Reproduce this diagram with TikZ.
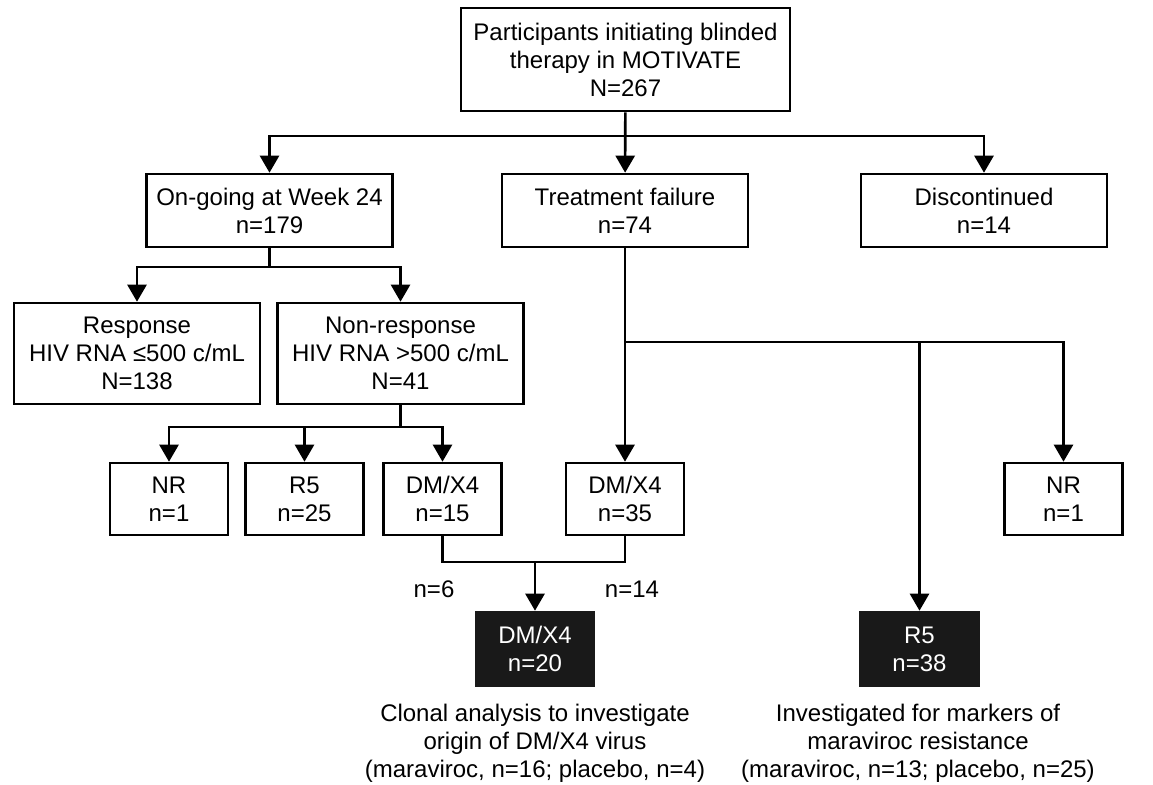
\documentclass[tikz,border=0pt]{standalone}
\usepackage{fontspec}
\setmainfont{Liberation Sans}
\usetikzlibrary{positioning,arrows.meta}

\begin{document}
\begin{tikzpicture}[
    x=0.5pt, y=-0.5pt,
    font=\fontsize{12}{14}\selectfont,
    box/.style={draw, line width=1.3pt, align=center, inner sep=0pt,
                minimum width=123pt, minimum height=36.5pt},
    tall/.style={box, minimum height=50.5pt},
    small/.style={draw, line width=1.3pt, align=center, inner sep=0pt,
                  minimum width=59pt, minimum height=36pt},
    dark/.style={small, fill=black!90, draw=black!90, text=white, minimum height=37pt},
    flow/.style={-{Triangle[length=8.5pt,width=9.5pt]}, line width=1.3pt},
    link/.style={line width=1.3pt},
    note/.style={align=center}]

    \useasboundingbox (0,0) rectangle (1153,784);

    \node[box, minimum width=164.5pt, minimum height=51.5pt] (start) at (625.5,59.5)
        {Participants initiating blinded\\therapy in MOTIVATE\\N=267};

    \node[box] (ongoing) at (269.5,210.5) {On-going at Week 24\\n=179};
    \node[box] (failure) at (625,210.5)   {Treatment failure\\n=74};
    \node[box] (disc)    at (984,210.5)   {Discontinued\\n=14};

    \node[tall] (resp)    at (137,353.5)   {Response\\HIV RNA \symbol{"2264}500 c/mL\\N=138};
    \node[tall] (nonresp) at (400.5,353.5) {Non-response\\HIV RNA \textgreater500 c/mL\\N=41};

    \node[small] (nrA)   at (169,499)    {NR\\n=1};
    \node[small] (rfiveA) at (304.5,499) {R5\\n=25};
    \node[small] (dmA)   at (442.5,499)  {DM/X4\\n=15};
    \node[small] (dmB)   at (625,499)    {DM/X4\\n=35};
    \node[small] (nrB)   at (1063.5,499) {NR\\n=1};

    \node[dark] (dmall)  at (535,649)    {DM/X4\\n=20};
    \node[dark] (rfiveall) at (919.5,649) {R5\\n=38};

    \node (lsix)      at (434,589) {n=6};
    \node (lfourteen) at (632,589) {n=14};

    \node[note] (clonal) at (535,743)
        {Clonal analysis to investigate\\origin of DM/X4 virus\\(maraviroc, n=16; placebo, n=4)};
    \node[note] (markers) at (918,743)
        {Investigated for markers of\\maraviroc resistance\\(maraviroc, n=13; placebo, n=25)};

    % junctions
    \coordinate (jtop)  at (625.5,136);
    \coordinate (jon)   at (269.5,267);
    \coordinate (jnon)  at (400.5,427);
    \coordinate (jfail) at (625,342);
    \coordinate (jdm)   at (535,562);

    \draw[flow] (start) -- (failure);
    \draw[flow] (jtop) -| (ongoing);
    \draw[flow] (jtop) -| (disc);

    \draw[link] (ongoing) -- (jon);
    \draw[flow] (jon) -| (resp);
    \draw[flow] (jon) -| (nonresp);

    \draw[link] (nonresp) -- (jnon);
    \draw[flow] (jnon) -| (nrA);
    \draw[flow] (jnon) -| (dmA);
    \draw[flow] (rfiveA |- jnon) -- (rfiveA);

    \draw[flow] (failure) -- (dmB);
    \draw[flow] (jfail) -| (nrB);
    \draw[flow] (rfiveall |- jfail) -- (rfiveall);

    \draw[link] (dmA.south) |- (dmB.south |- jdm) -- (dmB.south);
    \draw[flow] (jdm) -- (dmall);
\end{tikzpicture}
\end{document}
